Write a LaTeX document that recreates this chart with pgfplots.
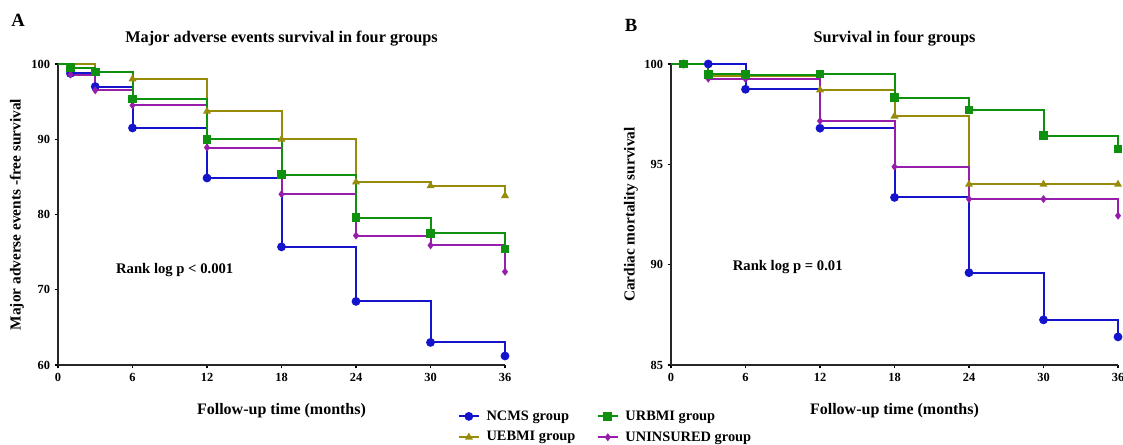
\documentclass[border=0pt]{standalone}
\usepackage{fontspec}
\setmainfont{Liberation Serif}
\usepackage{pgfplots}
\pgfplotsset{compat=1.18}
\definecolor{ncms}{RGB}{20,20,205}
\definecolor{urbmi}{RGB}{15,145,15}
\definecolor{uebmi}{RGB}{150,140,10}
\definecolor{unins}{RGB}{150,30,170}
\tikzset{ttl/.style={font=\fontsize{12.2}{14}\selectfont\bfseries, anchor=center}}
\pgfplotsset{
 km/.style={
  width=335.25pt, height=225.75pt, scale only axis, anchor=south west,
  axis lines=left, axis line style={-, line width=1.3pt, black!85},
  xmin=0, xmax=36, xtick={0,6,12,18,24,30,36},
  tick align=outside, major tick length=2.5pt, tick style={line width=0.8pt, black},
  ticklabel style={font=\fontsize{9.3}{11}\selectfont\bfseries},
  /pgf/number format/assume math mode=true,
  xlabel style={font=\fontsize{12}{14}\selectfont\bfseries, at={(axis description cs:0.5,-0.153)}, anchor=center},
  ylabel style={font=\fontsize{11.5}{13}\selectfont\bfseries, anchor=center},
  clip=false,
 },
 s1/.style={ncms, line width=1.5pt, mark=*, mark size=2.5pt, mark options={solid, fill=ncms}},
 s2/.style={urbmi, line width=1.5pt, mark=square*, mark size=2.5pt, mark options={solid, fill=urbmi}},
 s3/.style={uebmi, line width=1.5pt, mark=triangle*, mark size=2pt, mark options={solid, fill=uebmi}},
 s4/.style={unins, line width=1.5pt, mark=diamond*, mark size=1.8pt, mark options={solid, fill=unins}},
 kmp/.style={const plot, mark phase=2, forget plot},
}
\begin{document}
\begin{tikzpicture}[x=0.75pt, y=0.75pt]
\path[use as bounding box] (0,0) rectangle (1123,445);
\node[font=\fontsize{14}{16}\selectfont\bfseries] at (18,425) {A};
\node[font=\fontsize{14}{16}\selectfont\bfseries] at (631,420) {B};
% Panel A
\begin{axis}[km, at={(43.5pt,60pt)}, ymin=60, ymax=100, ytick={60,70,80,90,100},
  xlabel={Follow-up time (months)},
  ylabel={Major adverse events -free survival},
  ylabel style={at={(axis description cs:-0.092,0.5)}},
  legend columns=2, legend cell align=left,
  legend image code/.code={\draw[#1, mark repeat=2, mark phase=2] plot coordinates {(0pt,0pt) (7.5pt,0pt) (15pt,0pt)};},
  legend style={at={(axis description cs:0.885,-0.133)}, anchor=north west, draw=none, fill=none,
    font=\fontsize{10.8}{12}\selectfont\bfseries, row sep=3pt,
    /tikz/every odd column/.append style={column sep=3pt},
    /tikz/every even column/.append style={column sep=14pt}},
  ]
\addplot[s1, kmp] coordinates {(0,100) (1,98.75) (3,97.0) (6,91.5) (12,84.85) (18,75.7) (24,68.45) (30,63.0) (36,61.2)};
\addplot[s3, kmp] coordinates {(0,100) (3,98.9) (6,98.0) (12,93.7) (18,90.0) (24,84.3) (30,83.8) (36,82.5)};
\addplot[s4, kmp] coordinates {(0,100) (1,98.6) (3,96.5) (6,94.5) (12,88.9) (18,82.7) (24,77.2) (30,75.9) (36,72.4)};
\addplot[s2, kmp] coordinates {(0,100) (1,99.5) (3,98.95) (6,95.35) (12,90.0) (18,85.3) (24,79.6) (30,77.5) (36,75.4)};
\addlegendimage{s1}\addlegendentry{NCMS group}
\addlegendimage{s2}\addlegendentry{URBMI group}
\addlegendimage{s3}\addlegendentry{UEBMI group}
\addlegendimage{s4}\addlegendentry{UNINSURED group}
\node[ttl] at (axis description cs:0.5,1.086) {Major adverse events survival in four groups};
\node[anchor=west, font=\fontsize{11}{13}\selectfont\bfseries] at (axis cs:4.3,72.6) {Rank log p < 0.001};
\end{axis}
% Panel B
\begin{axis}[km, at={(503.25pt,60pt)}, ymin=85, ymax=100, ytick={85,90,95,100},
  xlabel={Follow-up time (months)},
  ylabel={Cardiac mortality survival},
  ylabel style={at={(axis description cs:-0.0895,0.5)}},
  ]
\addplot[s1, kmp] coordinates {(0,100) (1,100) (3,100) (6,98.74) (12,96.8) (18,93.35) (24,89.6) (30,87.25) (36,86.4)};
\addplot[s3, kmp] coordinates {(0,100) (3,99.4) (6,99.4) (12,98.7) (18,97.4) (24,94.0) (30,94.0) (36,94.0)};
\addplot[s4, kmp] coordinates {(0,100) (3,99.27) (6,99.25) (12,97.16) (18,94.88) (24,93.27) (30,93.27) (36,92.44)};
\addplot[s2, kmp] coordinates {(0,100) (1,100) (3,99.49) (6,99.47) (12,99.5) (18,98.32) (24,97.7) (30,96.43) (36,95.76)};
\node[ttl] at (axis description cs:0.5,1.086) {Survival in four groups};
\node[anchor=west, font=\fontsize{11}{13}\selectfont\bfseries] at (axis cs:4.6,89.9) {Rank log p = 0.01};
\end{axis}
\end{tikzpicture}
\end{document}
